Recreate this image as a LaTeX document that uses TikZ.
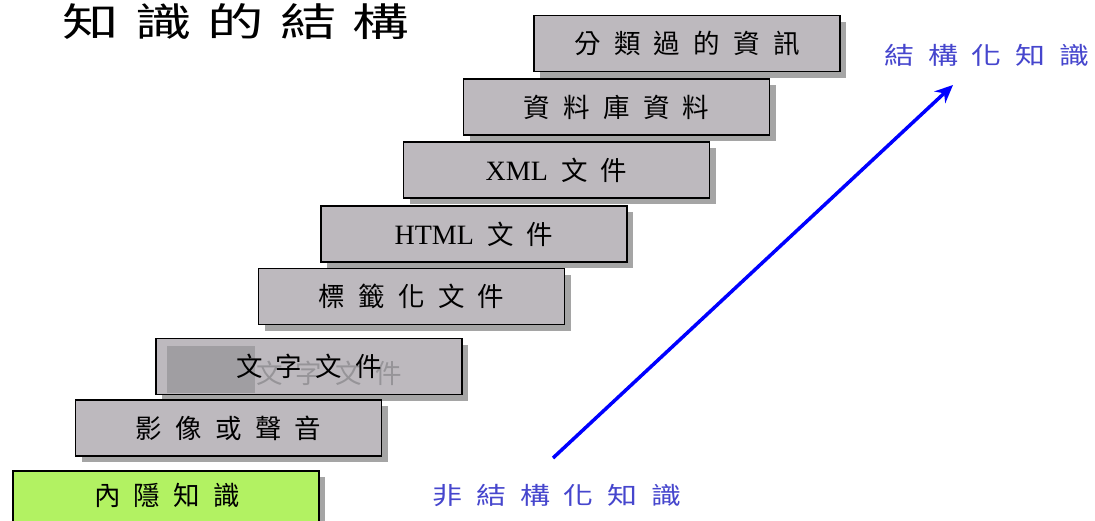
\documentclass[tikz,border=0pt]{standalone}
\usepackage{fontspec}
\setmainfont{Liberation Serif}
\newfontfamily\cjk{Noto Sans CJK TC}
\usetikzlibrary{arrows.meta,shadows}
\definecolor{boxgray}{RGB}{189,185,190}
\definecolor{shadowgray}{RGB}{165,165,165}
\definecolor{patchgray}{RGB}{160,158,162}
\definecolor{ghostgray}{RGB}{150,148,152}
\definecolor{tacitgreen}{RGB}{178,242,98}
\definecolor{labelblue}{RGB}{70,70,205}
\newcommand\gp{\hspace{0.5em}}
\tikzset{
  stair/.style={draw=black, line width=1.4pt, fill=boxgray, minimum width=306pt, minimum height=56pt, inner sep=0pt,
    font=\cjk\fontsize{26.5}{28}\selectfont,
    drop shadow={shadow xshift=6pt, shadow yshift=-6pt, fill=shadowgray, opacity=1}},
  stairtext/.style={font=\cjk\fontsize{26.5}{28}\selectfont, inner sep=0pt},
  bluelabel/.style={text=labelblue, font=\cjk\fontsize{24}{26}\selectfont, xscale=1.25, inner sep=0pt},
}
\begin{document}
\begin{tikzpicture}[x=1pt,y=-1pt]
\useasboundingbox (0,0) rectangle (1095,520);
\node[font=\cjk\fontsize{39}{40}\selectfont, xscale=1.45, inner sep=0pt] (title) at (236,22) {知\hspace{11pt}識\hspace{11pt}的\hspace{11pt}結\hspace{11pt}構};
\node[stair] (b1) at (687,43.5) {分\gp 類\gp 過\gp 的\gp 資\gp 訊};
\node[stair] (b2) at (616.5,107) {資\gp 料\gp 庫\gp 資\gp 料};
\node[stair] (b3) at (556.5,170) {{\rmfamily\fontsize{28}{28}\selectfont XML}\gp 文\gp 件};
\node[stair] (b4) at (474,234) {{\rmfamily\fontsize{28}{28}\selectfont HTML}\gp 文\gp 件};
\node[stair] (b5) at (411.5,296.5) {標\gp 籤\gp 化\gp 文\gp 件};
\node[stair] (b6) at (309,366.5) {};
\fill[patchgray] (167,346) rectangle (255,393);
\node[stairtext, text=ghostgray] (ghost) at (329,373) {文\gp 字\gp 文\gp 件};
\node[stairtext] (b6t) at (309,366.5) {文\gp 字\gp 文\gp 件};
\node[stair] (b7) at (228.5,428) {影\gp 像\gp 或\gp 聲\gp 音};
\node[stair, fill=tacitgreen, minimum height=62pt] (b8) at (166,502) {};
\node[stairtext] (b8t) at (167,495) {內\gp 隱\gp 知\gp 識};
\coordinate (s) at (553,458);
\coordinate (e) at (953,85);
\draw[blue, line width=3.5pt, -{Stealth[length=18pt, width=16pt]}] (s) -- (e);
\node[bluelabel] (top) at (987,55) {結\hspace{11pt}構\hspace{11pt}化\hspace{11pt}知\hspace{11pt}識};
\node[bluelabel] (bottom) at (557,495) {非\hspace{11pt}結\hspace{11pt}構\hspace{11pt}化\hspace{11pt}知\hspace{11pt}識};
\end{tikzpicture}
\end{document}
